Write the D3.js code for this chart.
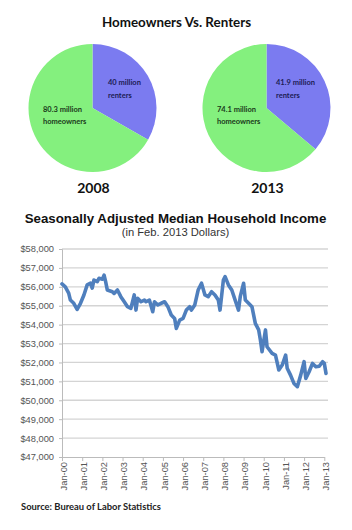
<!DOCTYPE html>
<html>
<head>
<meta charset="utf-8">
<script src="https://cdn.jsdelivr.net/npm/d3@7"></script>
<style>
  body { margin: 0; background: #fff; }
  svg { display: block; }
</style>
</head>
<body>
<div id="chart"></div>
<script>
// pie data (millions)
const pieYears = ["2008", "2013"]
const renters = [40, 41.9]
const homeowners = [80.3, 74.1]

// income line (month, dollars)
const months = ["2000-01","2000-03","2000-05","2000-06","2000-08","2000-10","2000-12","2001-02","2001-04","2001-06","2001-07","2001-08","2001-10","2001-11","2002-01","2002-02","2002-03","2002-04","2002-07","2002-08","2002-10","2002-12","2003-02","2003-04","2003-06","2003-08","2003-09","2003-10","2003-12","2004-02","2004-03","2004-05","2004-07","2004-08","2004-10","2004-12","2005-02","2005-04","2005-06","2005-08","2005-09","2005-11","2006-01","2006-03","2006-05","2006-06","2006-08","2006-10","2006-12","2007-02","2007-04","2007-06","2007-08","2007-10","2007-11","2008-01","2008-02","2008-04","2008-06","2008-08","2008-10","2008-11","2009-01","2009-02","2009-04","2009-06","2009-08","2009-10","2009-11","2009-12","2010-02","2010-03","2010-06","2010-08","2010-10","2010-12","2011-02","2011-03","2011-05","2011-07","2011-09","2011-11","2012-01","2012-02","2012-04","2012-06","2012-08","2012-10","2012-12","2013-01","2013-02"]
const income = [56150,56000,55670,55300,55130,54810,55130,55570,56100,56190,55930,56360,56270,56450,56400,56620,56270,55830,55740,55650,55830,55480,55210,54950,54860,55570,54770,55390,55210,55300,55210,55300,54680,55210,55040,55130,55210,54950,54510,54330,53800,54240,54330,54770,54950,54770,55040,55830,56190,55570,55480,55740,55570,55300,54770,56360,56540,56100,55830,55300,54770,55480,56190,55300,55130,54950,54070,53720,53190,52570,53720,52830,52480,52390,51600,51860,52390,51690,51330,50890,50720,51330,52040,51160,51510,51950,51770,51800,52040,51950,51420]
const yTicks = [47000,48000,49000,50000,51000,52000,53000,54000,55000,56000,57000,58000]

const W = 352, H = 530
let svg = d3.select("#chart").append("svg")
    .attr("width", W)
    .attr("height", H)

svg.append("rect").attr("width", W).attr("height", H).attr("fill", "#fff")

// ---- pies ----
const calibri = "Lato, 'Open Sans', sans-serif"
const arial = "'Liberation Sans', Arial, sans-serif"

svg.append("text")
    .attr("x", 176.5)
    .attr("y", 27)
    .attr("text-anchor", "middle")
    .attr("font-family", calibri)
    .attr("font-weight", "bold")
    .attr("font-size", 13.4)
    .attr("fill", "#111")
    .text("Homeowners Vs. Renters")

let pie = d3.pie().value(d => d.v).sort(null)
let arc = d3.arc().innerRadius(0).outerRadius(64)
let pieColor = d3.scaleOrdinal().domain(["renters", "homeowners"]).range(["#7b7bf0", "#84f07e"])

const pieCx = [92.5, 266.5]
const pieCy = 108
const labelPos = [
    { r: [108, 82], h: [43, 109] },
    { r: [276, 82], h: [217, 109] }
]

pieYears.forEach((yr, i) => {
    let g = svg.append("g").attr("transform", "translate(" + pieCx[i] + "," + pieCy + ")")
    let data = [
        { k: "renters", v: renters[i] },
        { k: "homeowners", v: homeowners[i] }
    ]
    g.selectAll("path")
        .data(pie(data))
        .enter().append("path")
        .attr("d", arc)
        .attr("fill", d => pieColor(d.data.k))

    let lp = labelPos[i]
    let rt = svg.append("text")
        .attr("font-family", calibri)
        .attr("font-weight", "bold")
        .attr("font-size", 7.5)
        .attr("fill", "#1c1c55")
    rt.append("tspan").attr("x", lp.r[0]).attr("y", lp.r[1] + 3).text(renters[i] + " million")
    rt.append("tspan").attr("x", lp.r[0]).attr("y", lp.r[1] + 16).text("renters")

    let ht = svg.append("text")
        .attr("font-family", calibri)
        .attr("font-weight", "bold")
        .attr("font-size", 7.5)
        .attr("fill", "#1a3a1a")
    ht.append("tspan").attr("x", lp.h[0]).attr("y", lp.h[1] + 3).text(homeowners[i] + " million")
    ht.append("tspan").attr("x", lp.h[0]).attr("y", lp.h[1] + 15).text("homeowners")

    svg.append("text")
        .attr("x", pieCx[i] + 1)
        .attr("y", 193)
        .attr("text-anchor", "middle")
        .attr("font-family", calibri)
        .attr("font-weight", "bold")
        .attr("font-size", 14)
        .attr("fill", "#111")
        .text(yr)
})

// ---- income line chart ----
svg.append("text")
    .attr("x", 175.5)
    .attr("y", 223)
    .attr("text-anchor", "middle")
    .attr("font-family", arial)
    .attr("font-weight", "bold")
    .attr("font-size", 13.3)
    .attr("fill", "#111")
    .text("Seasonally Adjusted Median Household Income")

svg.append("text")
    .attr("x", 175.5)
    .attr("y", 236)
    .attr("text-anchor", "middle")
    .attr("font-family", arial)
    .attr("font-size", 11.2)
    .attr("fill", "#333")
    .text("(in Feb. 2013 Dollars)")

let parse = d3.timeParse("%Y-%m")
let pts = months.map((m, i) => ({ d: parse(m), v: income[i] }))

let x = d3.scaleTime()
    .domain([parse("2000-01"), parse("2013-01")])
    .range([62, 324.3])
let y = d3.scaleLinear()
    .domain([47000, 58000])
    .range([457, 249])

// gridlines
svg.append("g")
    .selectAll("line")
    .data(yTicks.slice(1))
    .enter().append("line")
    .attr("x1", 62).attr("x2", 328)
    .attr("y1", d => y(d)).attr("y2", d => y(d))
    .attr("stroke", "#d4d4d4")
    .attr("stroke-width", 1.3)

// y axis
let yAxis = svg.append("g")
    .attr("transform", "translate(62,0)")
    .call(d3.axisLeft(y).tickValues(yTicks).tickFormat(d3.format("$,")).tickSize(3).tickPadding(5))
yAxis.select(".domain").attr("stroke", "#bbb")
yAxis.selectAll(".tick line").attr("stroke", "#bbb")
yAxis.selectAll("text")
    .attr("font-family", arial)
    .attr("font-size", 9.3)
    .attr("fill", "#555")

// x axis
let xTicks = d3.range(2000, 2014).map(yy => new Date(yy, 0, 1))
let xAxis = svg.append("g")
    .attr("transform", "translate(0,457)")
    .call(d3.axisBottom(x).tickValues(xTicks).tickFormat(d3.timeFormat("Jan-%y")).tickSize(4).tickSizeOuter(0))
xAxis.select(".domain").attr("stroke", "#bbb")
xAxis.selectAll(".tick line").attr("stroke", "#bbb")
xAxis.selectAll("text")
    .attr("font-family", arial)
    .attr("font-size", 9.3)
    .attr("fill", "#555")
    .attr("text-anchor", "end")
    .attr("transform", "rotate(-90)")
    .attr("x", -5)
    .attr("y", 1)
    .attr("dy", "0.35em")

// the line
let line = d3.line()
    .x(d => x(d.d))
    .y(d => y(d.v))

svg.append("path")
    .datum(pts)
    .attr("d", line)
    .attr("fill", "none")
    .attr("stroke", "#4f7fbd")
    .attr("stroke-width", 3.6)
    .attr("stroke-linejoin", "round")
    .attr("stroke-linecap", "round")

// source
svg.append("text")
    .attr("x", 21)
    .attr("y", 510)
    .attr("font-family", calibri)
    .attr("font-weight", "bold")
    .attr("font-size", 9.4)
    .attr("fill", "#222")
    .text("Source: Bureau of Labor Statistics")
</script>
</body>
</html>
